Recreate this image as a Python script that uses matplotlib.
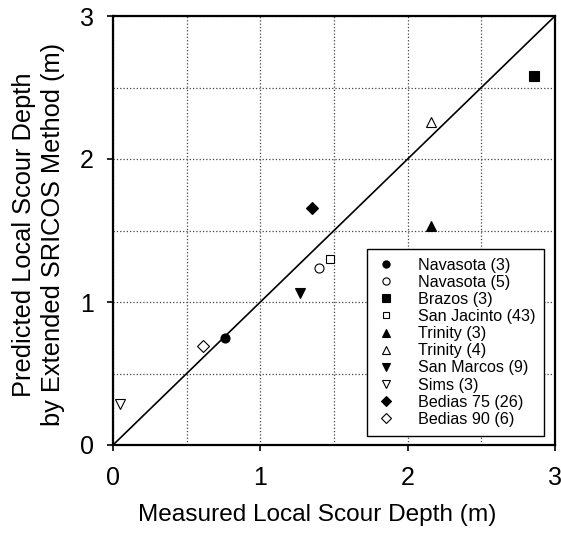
import matplotlib
matplotlib.use("Agg")
import matplotlib.pyplot as plt

plt.rcParams['font.family'] = ['Liberation Sans', 'DejaVu Sans']

labels = ["Navasota (3)", "Navasota (5)", "Brazos (3)", "San Jacinto (43)",
          "Trinity (3)", "Trinity (4)", "San Marcos (9)", "Sims (3)",
          "Bedias 75 (26)", "Bedias 90 (6)"]
measured = [0.76, 1.40, 2.86, 1.47, 2.16, 2.16, 1.27, 0.05, 1.35, 0.61]
predicted = [0.75, 1.24, 2.58, 1.30, 1.53, 2.26, 1.06, 0.285, 1.655, 0.695]
markers = ["o", "o", "s", "s", "^", "^", "v", "v", "D", "D"]
filled = [True, False, True, False, True, False, True, False, True, False]
sizes = [6.5, 6.5, 6.5, 6.0, 6.5, 6.5, 6.5, 6.5, 6.0, 6.0]

ticks = [0, 1, 2, 3]
lims = [0, 3]

fig = plt.figure(figsize=(5.61, 5.36), dpi=100)
ax = fig.add_axes([113/561, 91/536, 442/561, 429/536])

ax.plot(lims, lims, color="black", lw=1.2, zorder=2)

for x, y, lab, m, f, s in zip(measured, predicted, labels, markers, filled, sizes):
    ax.plot([x], [y], linestyle="none", marker=m, markersize=s,
            markerfacecolor="black" if f else "white", markeredgecolor="black",
            markeredgewidth=0.8, label=lab, zorder=3)

ax.set_xlim(lims)
ax.set_ylim(lims)
ax.set_xticks(ticks)
ax.set_yticks(ticks)
ax.set_xticks([0.5, 1.5, 2.5], minor=True)
ax.set_yticks([0.5, 1.5, 2.5], minor=True)
ax.grid(True, which="both", linestyle=":", color="#444444", lw=0.9)
ax.tick_params(which="major", direction="out", length=4, width=1.2,
               labelsize=18)
ax.tick_params(axis="x", which="major", pad=11)
ax.tick_params(axis="y", which="major", pad=10)
ax.tick_params(which="minor", length=0)
for sp in ax.spines.values():
    sp.set_linewidth(1.6)

ax.set_xlabel("Measured Local Scour Depth (m)", fontsize=17.6)
ax.xaxis.set_label_coords(0.4615, -0.137)
ax.set_ylabel("Predicted Local Scour Depth\nby Extended SRICOS Method (m)",
              fontsize=18.3, linespacing=1.28)
ax.yaxis.set_label_coords(-0.108, 0.49)

leg = ax.legend(loc="lower right", bbox_to_anchor=(0.975, 0.022),
                fontsize=11.6, frameon=True, fancybox=False, edgecolor="black",
                framealpha=1, markerscale=0.8, handlelength=1.3,
                handletextpad=1.3, labelspacing=0.13, borderpad=0.55,
                borderaxespad=0)
leg.get_frame().set_linewidth(1.0)

fig.savefig("out.png", dpi=100)
